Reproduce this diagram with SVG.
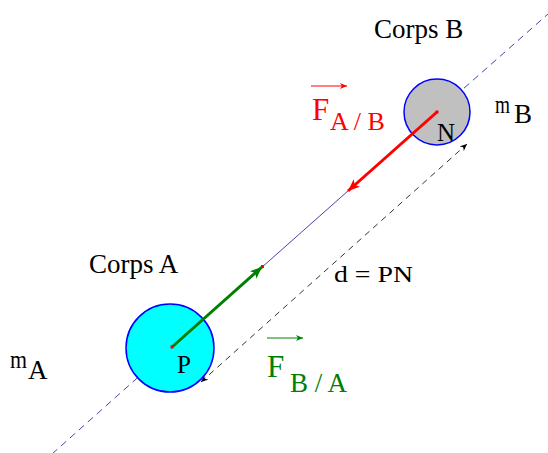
<svg xmlns="http://www.w3.org/2000/svg" width="548" height="453" viewBox="0 0 548 453">
<style>
text{font-family:"Liberation Serif","Times New Roman",serif;}
.blk{fill:#000;}
.red{fill:#ff0000;}
.grn{fill:#008000;}
.axis{stroke:#4646aa;stroke-width:1;fill:none;}
.dash{stroke-dasharray:7 5;}
.dist{stroke:#333;stroke-width:1;stroke-dasharray:6 5;fill:none;}
</style>
<defs>
<marker id="ahRed" markerUnits="userSpaceOnUse" markerWidth="14" markerHeight="12" refX="12" refY="5" orient="auto">
<path d="M0,0 L12,5 L0,10 L3,5 Z" fill="#ff0000"/>
</marker>
<marker id="ahGrn" markerUnits="userSpaceOnUse" markerWidth="14" markerHeight="12" refX="12" refY="5" orient="auto">
<path d="M0,0 L12,5 L0,10 L3,5 Z" fill="#008000"/>
</marker>
<marker id="ahBlk" markerUnits="userSpaceOnUse" markerWidth="8" markerHeight="8" refX="7" refY="3" orient="auto-start-reverse">
<path d="M0,0 L7,3 L0,6 L2,3 Z" fill="#000"/>
</marker>
<marker id="ahVR" markerUnits="userSpaceOnUse" markerWidth="8" markerHeight="8" refX="7" refY="3" orient="auto">
<path d="M0,0 L7,3 L0,6 L2,3 Z" fill="#ff0000"/>
</marker>
<marker id="ahVG" markerUnits="userSpaceOnUse" markerWidth="8" markerHeight="8" refX="7" refY="3" orient="auto">
<path d="M0,0 L7,3 L0,6 L2,3 Z" fill="#008000"/>
</marker>
</defs>
<g id="connectors">
<line class="axis dash" x1="52" y1="454" x2="172" y2="347"/>
<line class="axis dash" x1="437" y1="112" x2="548" y2="14"/>
<line class="axis" x1="172" y1="347" x2="437" y2="112"/>
<line class="dist" x1="201" y1="382" x2="467" y2="144" marker-start="url(#ahBlk)" marker-end="url(#ahBlk)"/>
</g>
<g id="corpsA">
<circle cx="170" cy="348" r="44" fill="#00ffff" stroke="#0000ff" stroke-width="1.5"/>
<text x="89" y="273" font-size="27" class="blk">Corps A</text>
<text x="177" y="373" font-size="25" class="blk">P</text>
<text x="10" y="368" font-size="26" class="blk" textLength="17" lengthAdjust="spacingAndGlyphs">m</text>
<text x="28" y="379" font-size="27" class="blk">A</text>
</g>
<g id="corpsB">
<circle cx="437" cy="112" r="33" fill="#c0c0c0" stroke="#0000ff" stroke-width="1.5"/>
<text x="374" y="38" font-size="27" class="blk">Corps B</text>
<text x="437" y="141" font-size="25" class="blk">N</text>
<text x="495" y="113" font-size="26" class="blk" textLength="15" lengthAdjust="spacingAndGlyphs">m</text>
<text x="514" y="123" font-size="27" class="blk">B</text>
</g>
<g id="forceAB">
<line x1="437" y1="112" x2="348" y2="191" stroke="#ff0000" stroke-width="3" marker-end="url(#ahRed)"/>
<line x1="311" y1="86" x2="347" y2="86" stroke="#ff0000" stroke-width="1.2" marker-end="url(#ahVR)"/>
<text x="312" y="120" font-size="31" class="red">F</text>
<text x="330" y="130" font-size="26" class="red">A / B</text>
</g>
<g id="forceBA">
<line x1="172" y1="347" x2="262" y2="267" stroke="#008000" stroke-width="3" marker-end="url(#ahGrn)"/>
<line x1="267" y1="338" x2="303" y2="338" stroke="#008000" stroke-width="1.2" marker-end="url(#ahVG)"/>
<text x="267" y="377" font-size="31" class="grn">F</text>
<text x="290" y="392" font-size="27" class="grn">B / A</text>
</g>
<g id="points">
<rect x="170.5" y="345.5" width="3" height="3" fill="#ff0000"/>
<rect x="435.5" y="110.5" width="3" height="3" fill="#ff0000"/>
<rect x="261" y="265" width="3" height="3" fill="#ff0000"/>
</g>
<g id="distance">
<text x="334" y="282" font-size="24" class="blk" textLength="79" lengthAdjust="spacingAndGlyphs">d = PN</text>
</g>
</svg>
